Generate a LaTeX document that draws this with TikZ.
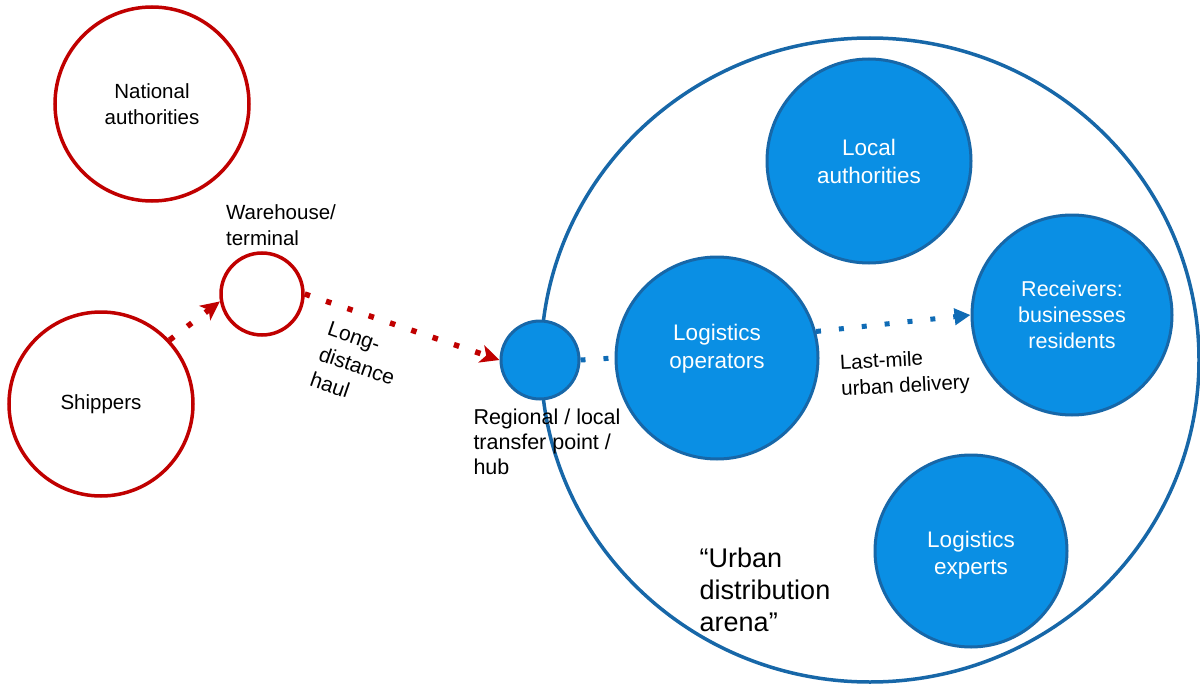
\documentclass[tikz,border=0pt]{standalone}
\usepackage{fontspec}
\setmainfont{Liberation Sans}
\usetikzlibrary{arrows.meta,shapes.geometric}
\definecolor{dred}{HTML}{C00000}
\definecolor{bfill}{HTML}{0A8FE4}
\definecolor{bline}{HTML}{1767A8}
\definecolor{barrow}{HTML}{0F6BB5}
\begin{document}
\begin{tikzpicture}[x=1pt,y=-1pt,
  redc/.style={circle,draw=dred,line width=3.5pt,fill=white,inner sep=0pt,align=center,font=\fontsize{20.5}{26}\selectfont},
  bluec/.style={circle,draw=bline,line width=3pt,fill=bfill,inner sep=0pt,align=center,text=white,font=\fontsize{22.5}{28}\selectfont},
  btext/.style={inner sep=0pt,align=center,text=white,font=\fontsize{22.5}{28}\selectfont},
  lbl/.style={align=left,inner sep=0pt,font=\fontsize{20.5}{26}\selectfont},
  reddot/.style={draw=dred,line width=5.5pt,dash pattern=on 5.5pt off 17pt,-{Stealth[length=19pt,width=18pt,inset=5pt]}},
  bluedot/.style={draw=barrow,line width=5pt,dash pattern=on 5pt off 18pt},
  bluearrow/.style={bluedot,-{Triangle[length=16pt,width=16pt]}}
]
\useasboundingbox (0,0) rectangle (1200,685);
% big arena ellipse
\node[ellipse,draw=bline,line width=3.5pt,inner sep=0pt,minimum width=658pt,minimum height=644pt] (arena) at (870,360) {};
% red circles
\node[redc,minimum size=194pt] (nat) at (152,104) {National\\authorities};
\node[redc,minimum size=82pt] (ware) at (262,294) {};
\node[redc,minimum size=184pt] (ship) at (101,404) {Shippers};
% blue circles
\node[bluec,minimum size=78pt] (hub) at (540,360) {};
\node[bluec,minimum size=202pt] (ops) at (717,358) {};
\node[btext] (opst) at ([yshift=9pt]ops.center) {Logistics\\operators};
\node[bluec,minimum size=204pt] (loc) at (869,161) {Local\\authorities};
\node[bluec,minimum size=200pt,font=\fontsize{21.5}{26}\selectfont] (rec) at (1072,315) {Receivers:\\businesses\\residents};
\node[bluec,minimum size=192pt] (exp) at (971,551) {};
\node[btext,font=\fontsize{22.5}{27}\selectfont] (expt) at ([yshift=-4.5pt]exp.center) {Logistics\\experts};
% labels
\node[lbl] (warelbl) at (281,225) {Warehouse/\\terminal};
\node[lbl,font=\fontsize{21.5}{25}\selectfont] (hublbl) at (547,442) {Regional / local\\transfer point /\\hub};
\node[lbl,rotate=-19,font=\fontsize{21}{27}\selectfont] (longlbl) at (357,366) {Long-\\distance\\haul};
\node[lbl,rotate=3,font=\fontsize{20.5}{26}\selectfont] (lastlbl) at (905,374) {Last-mile\\urban delivery};
\node[lbl,font=\fontsize{27}{32}\selectfont] (arenalbl) at (765,590) {``Urban\\distribution\\arena''};
% connectors
\draw[reddot] (ship.43) -- (ware.190);
\draw[reddot] (ware.east) -- (hub.west);
\draw[bluedot] (hub.east) -- (ops.west);
\draw[bluearrow] (ops.15) -- (rec.west);
\end{tikzpicture}
\end{document}
